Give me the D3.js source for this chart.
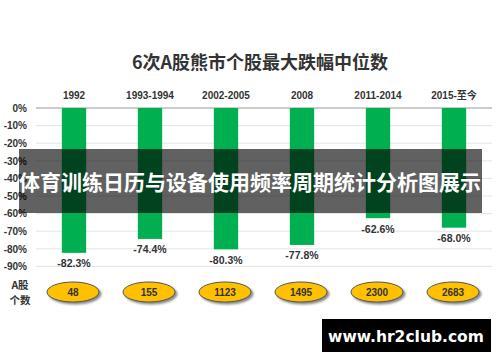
<!DOCTYPE html>
<html>
<head>
<meta charset="utf-8">
<script src="https://cdn.jsdelivr.net/npm/d3@7"></script>
<style>
  body { margin: 0; background: #fff; }
  svg { display: block; font-family: "Liberation Sans", Arial, "Noto Sans CJK SC", sans-serif; }
</style>
</head>
<body>
<div id="chart"></div>
<script>
// six A-share bear markets
var periods = ["1992", "1993-1994", "2002-2005", "2008", "2011-2014", "2015-至今"];
var drops = [-82.3, -74.4, -80.3, -77.8, -62.6, -68.0];
var stockCounts = [48, 155, 1123, 1495, 2300, 2683];
var yTicks = [0, -10, -20, -30, -40, -50, -60, -70, -80, -90];

var width = 500, height = 362;
var cjk = "'Noto Sans CJK SC', sans-serif";

var svg = d3.select("#chart").append("svg")
  .attr("width", width).attr("height", height);

var defs = svg.append("defs");
var f = defs.append("filter").attr("id", "shadow")
  .attr("x", "-20%").attr("y", "-30%").attr("width", "150%").attr("height", "180%");
f.append("feDropShadow").attr("dx", 2).attr("dy", 2).attr("stdDeviation", 1.2)
  .attr("flood-color", "#555").attr("flood-opacity", 0.7);

var x = d3.scaleBand().domain(periods).range([36, 492]).paddingInner(0.68).paddingOuter(0.34);
var y = d3.scaleLinear().domain([0, -90]).range([108, 266.4]);

// title
svg.append("text")
  .attr("x", 260).attr("y", 69)
  .attr("text-anchor", "middle")
  .style("font-family", cjk)
  .style("font-size", "18px").style("font-weight", "bold").style("fill", "#333")
  .text("6次A股熊市个股最大跌幅中位数");

// grid
svg.append("g").selectAll("line").data(yTicks).enter().append("line")
  .attr("x1", 36).attr("x2", 492)
  .attr("y1", function(d) { return y(d); }).attr("y2", function(d) { return y(d); })
  .attr("stroke", function(d) { return d === 0 ? "#999" : "#e4e4e4"; })
  .attr("stroke-width", 1);

// y axis labels
var yAxis = d3.axisLeft(y).tickValues(yTicks).tickSize(0).tickPadding(0)
  .tickFormat(function(d) { return d + "%"; });
var ya = svg.append("g").attr("transform", "translate(27,0)").call(yAxis);
ya.select(".domain").remove();
ya.selectAll("text").style("font-size", "10px").style("font-weight", "bold").style("fill", "#333")
  .style("font-family", "'Liberation Sans', Arial, sans-serif");

// period labels
svg.append("g").selectAll("text").data(periods).enter().append("text")
  .attr("x", function(d) { return x(d) + x.bandwidth() / 2; })
  .attr("y", 98.5)
  .attr("text-anchor", "middle")
  .style("font-family", "'Liberation Sans', 'Noto Sans CJK SC', sans-serif")
  .style("font-size", "10px").style("font-weight", "bold").style("fill", "#333")
  .text(function(d) { return d; });

// bars
svg.append("g").selectAll("rect").data(drops).enter().append("rect")
  .attr("x", function(d, i) { return x(periods[i]); })
  .attr("y", y(0))
  .attr("width", x.bandwidth())
  .attr("height", function(d) { return y(d) - y(0); })
  .attr("fill", "#00b050");

// value labels
svg.append("g").selectAll("text").data(drops).enter().append("text")
  .attr("x", function(d, i) { return x(periods[i]) + x.bandwidth() / 2; })
  .attr("y", function(d) { return y(d) + 14.5; })
  .attr("text-anchor", "middle")
  .style("font-size", "10.5px").style("font-weight", "bold").style("fill", "#333")
  .text(function(d) { return d.toFixed(1) + "%"; });

// A股个数 label
svg.append("text").attr("x", 20).attr("y", 289).attr("text-anchor", "middle")
  .style("font-family", cjk).style("font-size", "10.5px").style("font-weight", "bold").style("fill", "#333")
  .text("A股");
svg.append("text").attr("x", 20).attr("y", 304).attr("text-anchor", "middle")
  .style("font-family", cjk).style("font-size", "10.5px").style("font-weight", "bold").style("fill", "#333")
  .text("个数");

// ellipses
var ell = svg.append("g").selectAll("g").data(stockCounts).enter().append("g")
  .attr("transform", function(d, i) { return "translate(" + (x(periods[i]) + x.bandwidth() / 2 - 1) + ",292)"; });
ell.append("ellipse").attr("rx", 26).attr("ry", 10)
  .attr("fill", "#ffc000").attr("stroke", "#555").attr("stroke-width", 1)
  .attr("filter", "url(#shadow)");
ell.append("text").attr("text-anchor", "middle").attr("dy", "0.35em")
  .style("font-size", "10px").style("font-weight", "bold").style("fill", "#333")
  .text(function(d) { return d; });

// overlay banner
svg.append("rect").attr("x", 19).attr("y", 149).attr("width", 463).attr("height", 64)
  .attr("fill", "rgba(0,0,0,0.62)");
svg.append("text").attr("x", 250).attr("y", 190).attr("text-anchor", "middle")
  .style("font-family", cjk).style("font-size", "21px").style("font-weight", "bold").style("fill", "#fff")
  .text("体育训练日历与设备使用频率周期统计分析图展示");

// watermark
svg.append("rect").attr("x", 322).attr("y", 319).attr("width", 169).attr("height", 33).attr("fill", "#000");
svg.append("text").attr("x", 406).attr("y", 342).attr("text-anchor", "middle")
  .style("font-family", "'DejaVu Sans', sans-serif").style("font-size", "15.5px").style("font-weight", "bold").style("fill", "#fff")
  .text("www.hr2club.com");
</script>
</body>
</html>
